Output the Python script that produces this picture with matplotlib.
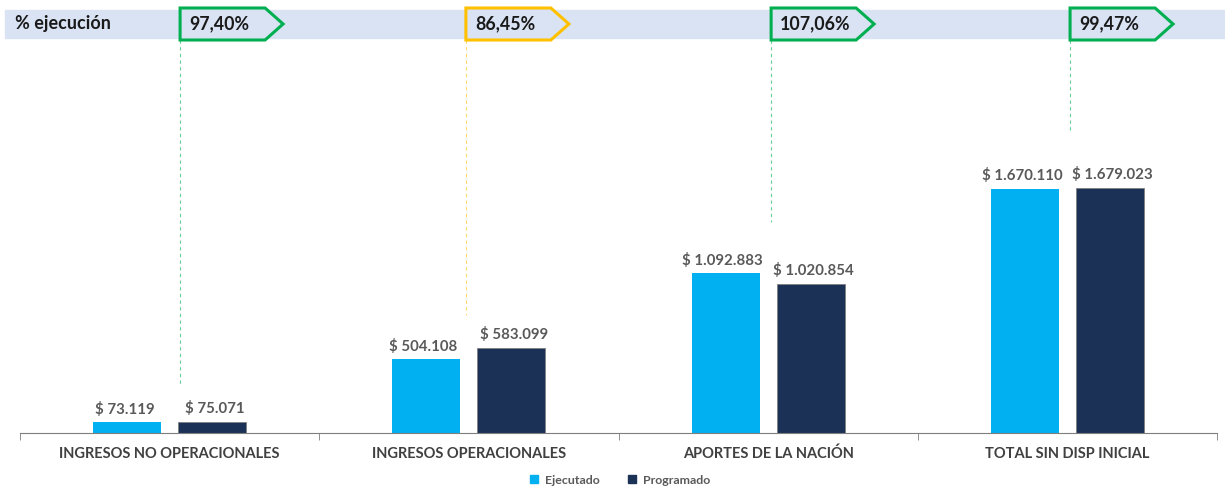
import matplotlib.pyplot as plt
from matplotlib.patches import Polygon, Rectangle
from matplotlib.lines import Line2D
import numpy as np

plt.rcParams['font.family'] = ['Lato', 'DejaVu Sans']

categories = ['INGRESOS NO OPERACIONALES', 'INGRESOS OPERACIONALES',
              'APORTES DE LA NACIÓN', 'TOTAL SIN DISP INICIAL']
ejecutado = [73119, 504108, 1092883, 1670110]
programado = [75071, 583099, 1020854, 1679023]
pct_labels = ['97,40%', '86,45%', '107,06%', '99,47%']
pct_colors = ['#00B050', '#FFC000', '#00B050', '#00B050']
# where each dashed leader line stops (data units)
leader_end = [330000, 805000, 1445000, 2075000]
# horizontal shift of each tag from its category centre
tag_shift = [0.035, -0.01, 0.01, 0.009]

c_ej = '#00B0F0'
c_pr = '#1B3155'
txt = '#595959'

W, H = 1225, 487
fig = plt.figure(figsize=(W / 100, H / 100), dpi=100)

ax = fig.add_axes([20 / W, 1 - 433 / H, 1197 / W, 393 / H])
x = np.arange(len(categories))
bw = 0.227
off = 0.142
ax.bar(x - off, ejecutado, bw, color=c_ej, label='Ejecutado', zorder=2)
ax.bar(x + off, programado, bw, color=c_pr, edgecolor='#7F7F7F', linewidth=0.6,
       label='Programado', zorder=2)

ymax = 393 / 244 * 1670110
ax.set_ylim(0, ymax)
ax.set_xlim(-0.5, 3.5)

def fmt(v):
    return '$ ' + f'{v:,}'.replace(',', '.')

for i in range(len(categories)):
    ax.annotate(fmt(ejecutado[i]), (x[i] - off, ejecutado[i]), xytext=(-2, 4),
                textcoords='offset points', ha='center', va='bottom',
                fontsize=10.8, fontweight='bold', color=txt)
    ax.annotate(fmt(programado[i]), (x[i] + off, programado[i]), xytext=(2, 4),
                textcoords='offset points', ha='center', va='bottom',
                fontsize=10.8, fontweight='bold', color=txt)
    xl = x[i] + tag_shift[i]
    ax.plot([xl, xl], [ymax, leader_end[i]], ls=(0, (3, 3)),
            lw=0.8, color=pct_colors[i], alpha=0.6, zorder=1, clip_on=False)

for s in ['top', 'right', 'left']:
    ax.spines[s].set_visible(False)
ax.spines['bottom'].set_color('#7F7F7F')
ax.set_yticks([])
ax.set_xticks(x)
ax.set_xticklabels(categories, fontsize=10.5, fontweight='bold', color='#404040')
ax.tick_params(axis='x', which='major', length=0, pad=10)
ax.set_xticks(np.arange(-0.5, 4, 1), minor=True)
ax.tick_params(axis='x', which='minor', length=5, color='#7F7F7F')

# top band with percentage tags
top = fig.add_axes([20 / W, 1 - 45 / H, 1197 / W, 45 / H])
top.set_xlim(-0.5, 3.5)
top.set_ylim(45, 0)
top.axis('off')
px = 1 / 299.25
top.add_patch(Rectangle((-0.5 - 15 * px, 10), 1220 * px, 28, color='#DAE3F3',
                        clip_on=False, zorder=0))
top.text(-0.5 - 5 * px, 24, '% ejecución', fontsize=13, fontweight='bold',
         color='#1A1A1A', va='center', ha='left')
for i in range(len(categories)):
    x0 = x[i] + tag_shift[i]
    pts = [(x0, 8), (x0 + 85 * px, 8), (x0 + 103 * px, 24),
           (x0 + 85 * px, 40), (x0, 40)]
    top.add_patch(Polygon(pts, closed=True, facecolor='#DAE3F3',
                          edgecolor=pct_colors[i], lw=2.2, zorder=2, clip_on=False))
    top.text(x0 + 9 * px, 23.5, pct_labels[i], fontsize=12.8, fontweight='bold',
             color='#1A1A1A', va='center', ha='left', zorder=3)

handles = [Line2D([], [], marker='s', ls='', color=c_ej, markersize=5.5),
           Line2D([], [], marker='s', ls='', color=c_pr, markersize=5.5)]
fig.legend(handles, ['Ejecutado', 'Programado'], loc='center',
           bbox_to_anchor=(618 / W, 1 - 480 / H), ncol=2, frameon=False,
           handletextpad=0.3, columnspacing=2.0, handlelength=1.2,
           prop={'weight': 'bold', 'size': 8.9})
for t in fig.legends[0].get_texts():
    t.set_color(txt)

fig.savefig('out.png', dpi=100)
